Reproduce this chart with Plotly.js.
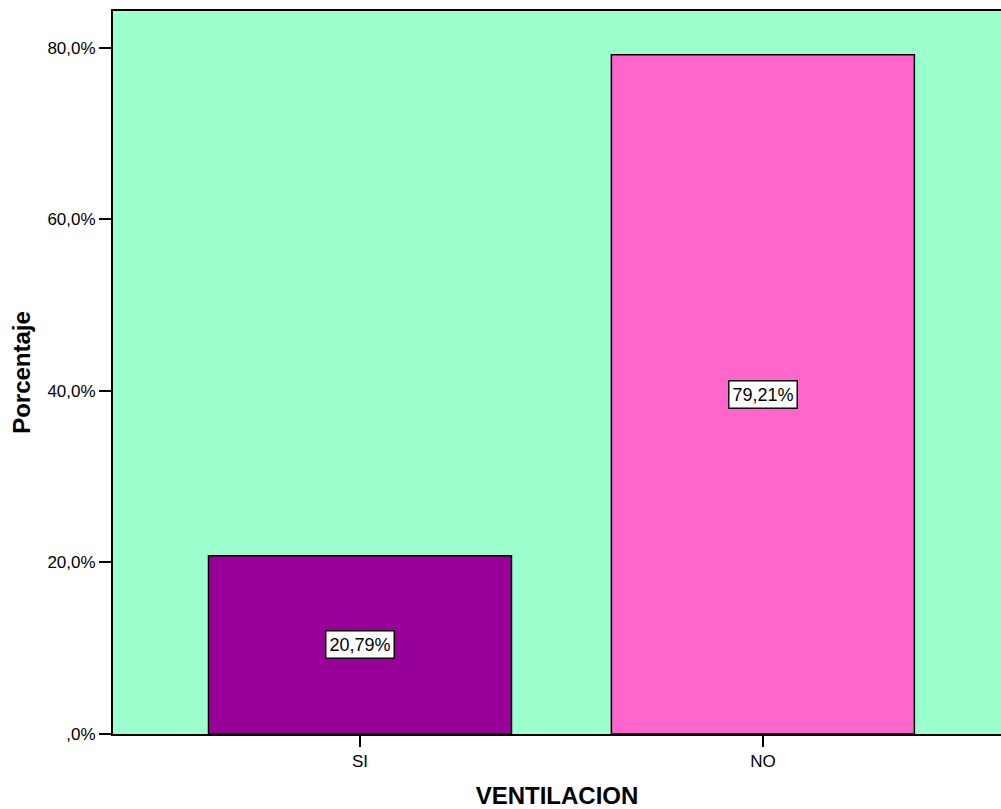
<!DOCTYPE html>
<html>
<head>
<meta charset="utf-8">
<script src="https://cdn.plot.ly/plotly-3.0.1.min.js"></script>
<style>
  html, body { margin: 0; padding: 0; background: #ffffff; }
  #chart { width: 1001px; height: 809px; }
</style>
</head>
<body>
<div id="chart"></div>
<script>
// Ventilación: porcentaje por categoría
const categories = ['SI', 'NO'];
const percentages = [20.79, 79.21];
const barColors = ['#990099', '#FF66CC'];
const valueLabels = ['20,79%', '79,21%'];
const yTickValues = [0, 20, 40, 60, 80];
const yTickLabels = [',0%', '20,0%', '40,0%', '60,0%', '80,0%'];

const baseFont = 'Liberation Sans, Arial, sans-serif';

const trace = {
  type: 'bar',
  x: categories,
  y: percentages,
  width: 0.752,
  marker: {
    color: barColors,
    line: { color: '#000000', width: 1.5 }
  },
  hoverinfo: 'none'
};

// Value boxes placed at half height of each bar
const valueAnnotations = categories.map((c, i) => ({
  x: c,
  y: percentages[i] / 2,
  xref: 'x',
  yref: 'y',
  text: valueLabels[i],
  showarrow: false,
  font: { family: baseFont, size: 18, color: '#000000' },
  bgcolor: '#ffffff',
  bordercolor: '#000000',
  borderwidth: 1.5,
  borderpad: 3
}));

const layout = {
  width: 1001,
  height: 809,
  margin: { l: 113, r: 0, t: 11, b: 75 },
  paper_bgcolor: '#ffffff',
  plot_bgcolor: '#9CFFCE',
  showlegend: false,
  bargap: 0,
  font: { family: baseFont, size: 17, color: '#000000' },
  xaxis: {
    type: 'category',
    range: [-0.613, 1.591],
    showgrid: false,
    zeroline: false,
    showline: true,
    mirror: true,
    linecolor: '#000000',
    linewidth: 2,
    ticks: 'outside',
    ticklen: 11,
    tickwidth: 2,
    tickcolor: '#000000',
    tickfont: { size: 17, color: '#000000' },
    title: {
      text: 'VENTILACION',
      font: { size: 24, color: '#000000', family: baseFont, weight: 'bold' },
      standoff: 22
    }
  },
  yaxis: {
    range: [0, 84.3],
    tickvals: yTickValues,
    ticktext: yTickLabels,
    showgrid: false,
    zeroline: false,
    showline: true,
    linecolor: '#000000',
    linewidth: 2,
    ticks: 'outside',
    ticklen: 12,
    tickwidth: 2,
    tickcolor: '#000000',
    tickfont: { size: 17, color: '#000000' },
    title: {
      text: 'Porcentaje',
      font: { size: 24, color: '#000000', family: baseFont, weight: 'bold' },
      standoff: 10
    }
  },
  annotations: valueAnnotations
};

Plotly.newPlot('chart', [trace], layout, { displayModeBar: false, staticPlot: true });
</script>
</body>
</html>
